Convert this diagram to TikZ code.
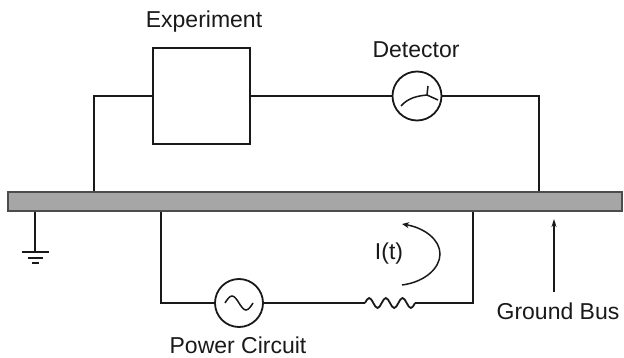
\documentclass[tikz,border=0pt]{standalone}
\usepackage{fontspec}
\setmainfont{Liberation Sans}
\usetikzlibrary{arrows.meta}
\begin{document}
\begin{tikzpicture}[x=1pt,y=-1pt,
  wire/.style={line width=1.8pt,draw=black!90},
  expbox/.style={draw=black!90,line width=1.8pt,minimum width=97pt,minimum height=96pt,inner sep=0pt},
  meter/.style={draw=black!90,line width=1.8pt,circle,minimum size=49pt,inner sep=0pt},
  busbar/.style={draw=black!70,fill=black!35,line width=1.6pt,minimum width=614pt,minimum height=19pt,inner sep=0pt},
  lbl/.style={font=\fontsize{23}{26}\selectfont,text=black!90,inner sep=0pt}]
\useasboundingbox (0,0) rectangle (624,358);
% bus
\node[busbar] (bus) at (315,201.5) {};
% nodes
\node[expbox] (exp) at (201.5,96) {};
\node[meter] (det) at (417,96) {};
\node[meter,minimum size=48pt] (ac) at (239,303) {};
\node[lbl] (explbl) at (204,22) {Experiment};
\node[lbl] (detlbl) at (416,50) {Detector};
\node[lbl] (pclbl) at (238,345) {Power Circuit};
\node[lbl] (itlbl) at (389,254) {I(t)};
\node[lbl] (gblbl) at (558,311) {Ground Bus};
% coordinates
\coordinate (lt) at (94,96);
\coordinate (rt) at (539,96);
\coordinate (lb) at (161,303);
\coordinate (br) at (473,303);
\coordinate (rl) at (365,303);
\coordinate (rr) at (415,303);
\coordinate (gnd) at (35,252);
\coordinate (gx) at (35,0);
\coordinate (lbx) at (161,0);
\coordinate (brx) at (473,0);
\coordinate (abot) at (554,292);
\coordinate (atop) at (554,219);
% top wires
\draw[wire] (exp.west) -- (lt) -- (lt |- bus.north);
\draw[wire] (exp.east) -- (det.west);
\draw[wire] (det.east) -- (rt) -- (rt |- bus.north);
% detector symbol
\draw[wire,line width=1.5pt] (det.center) ++(-16,10) .. controls +(7,-8) and +(-10,1) .. ++(26,-11) coordinate (nd);
\draw[wire,line width=1.5pt] (nd) -- ++(1,-9);
\draw[wire,line width=1.5pt] (nd) -- ++(11,5);
% ground
\draw[wire] (gx |- bus.south) -- (gnd);
\draw[wire] (gnd) ++(-13.5,0) -- ++(27,0);
\draw[wire] (gnd) ++(-7.5,6) -- ++(15,0);
\draw[wire] (gnd) ++(-3.5,11) -- ++(7,0);
% power circuit
\draw[wire] (lbx |- bus.south) -- (lb) -- (ac.west);
\draw[wire] (ac.east) -- (rl);
\draw[wire] (rl) sin ++(4.17,-5) cos ++(4.17,5) sin ++(4.17,5) cos ++(4.17,-5)
  sin ++(4.17,-5) cos ++(4.17,5) sin ++(4.17,5) cos ++(4.17,-5)
  sin ++(4.17,-5) cos ++(4.17,5) sin ++(4.17,5) cos ++(4.17,-5) -- (rr);
\draw[wire] (rr) -- (br) -- (brx |- bus.south);
% sine inside source
\draw[wire,line width=1.5pt] (ac.center) ++(-14,0) sin ++(7,-7) cos ++(7,7) sin ++(7,7) cos ++(7,-7);
% current arrow
\draw[wire,line width=1.5pt,{Stealth[length=7pt,width=6pt]}-] (402,224) .. controls (425,228) and (440,240) .. (440,254) .. controls (440,268) and (425,282) .. (402,285);
% ground bus arrow
\draw[wire,line width=1.4pt,-{Stealth[length=8pt,width=5pt]}] (abot) -- (atop);
\end{tikzpicture}
\end{document}
